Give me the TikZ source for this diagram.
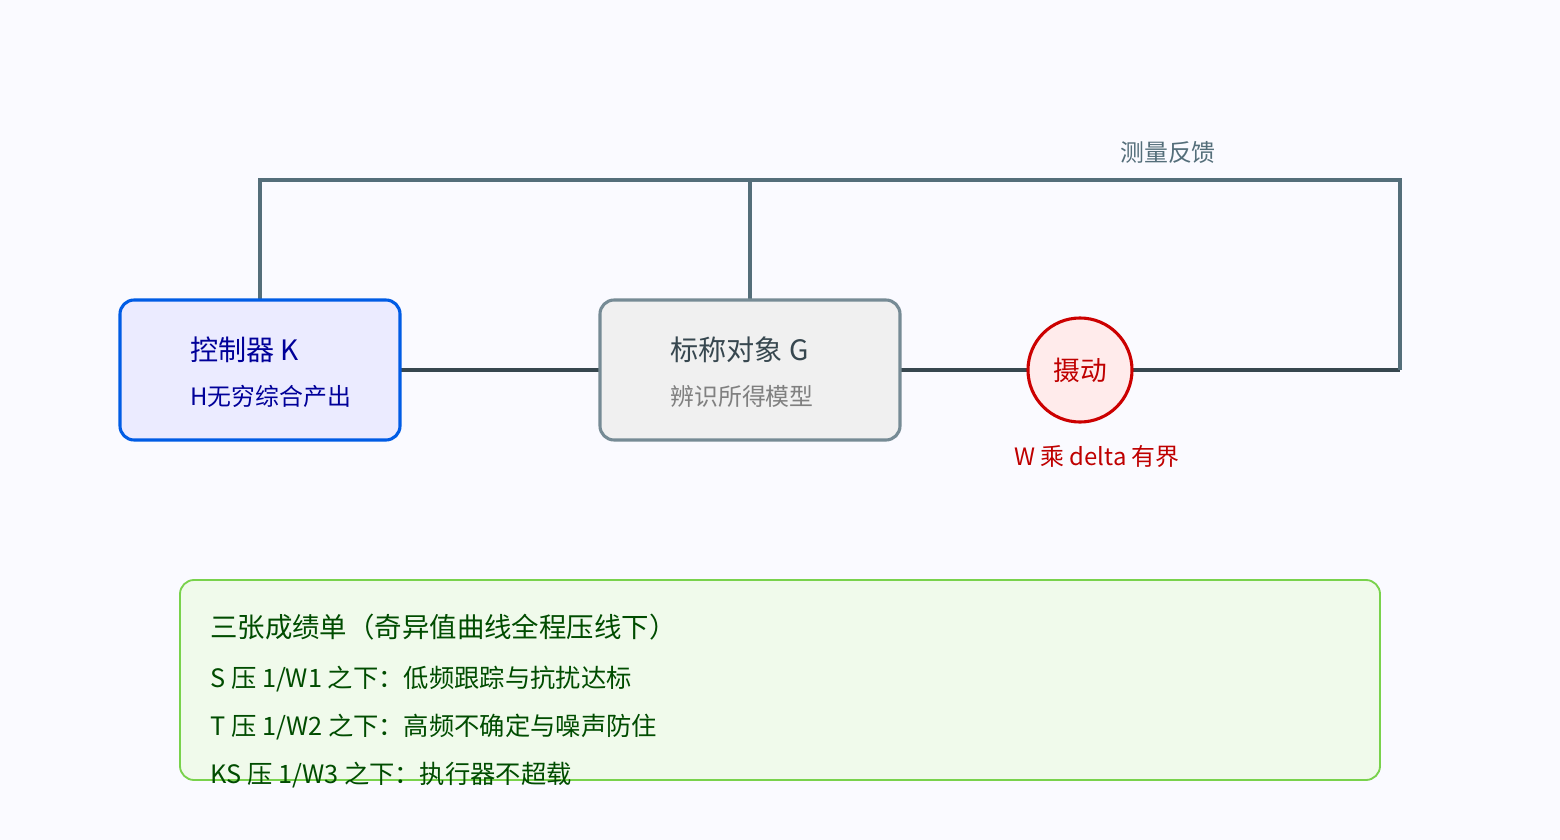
\documentclass[tikz,border=0pt]{standalone}
\usepackage{fontspec}
\setmainfont{Noto Sans CJK SC}
\begin{document}
\begin{tikzpicture}[x=0.025cm,y=-0.025cm,
  box/.style={rounded corners=10pt,line width=2.2pt},
  wire/.style={line width=2.2pt,draw=wireC},
  lab/.style={anchor=west,inner sep=0pt}]
\definecolor{wireC}{HTML}{37474F}
\definecolor{fbC}{HTML}{546E7A}
\useasboundingbox[fill=white!98!blue] (0,0) rectangle (1560,840);
% wires
\coordinate (fr) at (1400,370);
\coordinate (tr) at (1400,180);
\coordinate (tl) at (260,180);
\coordinate (tm) at (750,180);
\draw[wire] (400,370) -- (600,370);
\draw[wire] (900,370) -- (fr);
\draw[wire,draw=fbC] (fr) -- (tr) -- (tl) -- (260,300);
\draw[wire,draw=fbC] (tm) -- (750,300);
\node[text=fbC,font=\fontsize{17}{20}\selectfont] (fb) at (1168,152) {测量反馈};
% controller
\draw[box,draw=blue!60!cyan!90!black,fill=blue!8] (120,300) rectangle (400,440);
\node[lab,text=blue!60!black,font=\fontsize{20}{24}\selectfont] (k1) at (190,350) {控制器 K};
\node[lab,text=blue!60!black,font=\fontsize{17}{20}\selectfont] (k2) at (190,396) {H无穷综合产出};
% plant
\draw[box,draw=fbC!80,fill=gray!12] (600,300) rectangle (900,440);
\node[lab,text=wireC,font=\fontsize{20}{24}\selectfont] (g1) at (670,350) {标称对象 G};
\node[lab,text=gray,font=\fontsize{17}{20}\selectfont] (g2) at (670,396) {辨识所得模型};
% perturbation
\node[circle,minimum size=2.6cm,inner sep=0pt,draw=red!80!black,fill=red!8,line width=2.2pt,text=red!75!black,font=\fontsize{19}{22}\selectfont] (p) at (1080,370) {摄动};
\node[text=red!75!black,font=\fontsize{17}{20}\selectfont] (pl) at (1097,456) {W 乘 delta 有界};
% bottom
\draw[rounded corners=10pt,line width=1.3pt,draw=green!50!olive!70!white,fill=green!50!olive!8] (180,580) rectangle (1380,780);
\begin{scope}[every node/.style={lab,text=green!30!black}]
\node[font=\fontsize{19.5}{22}\selectfont] (b0) at (210,627) {三张成绩单（奇异值曲线全程压线下）};
\node[font=\fontsize{18}{22}\selectfont] (b1) at (210,679) {S 压 1/W1 之下：低频跟踪与抗扰达标};
\node[font=\fontsize{18}{22}\selectfont] (b2) at (210,727) {T 压 1/W2 之下：高频不确定与噪声防住};
\node[font=\fontsize{18}{22}\selectfont] (b3) at (210,775) {KS 压 1/W3 之下：执行器不超载};
\end{scope}
\end{tikzpicture}
\end{document}
